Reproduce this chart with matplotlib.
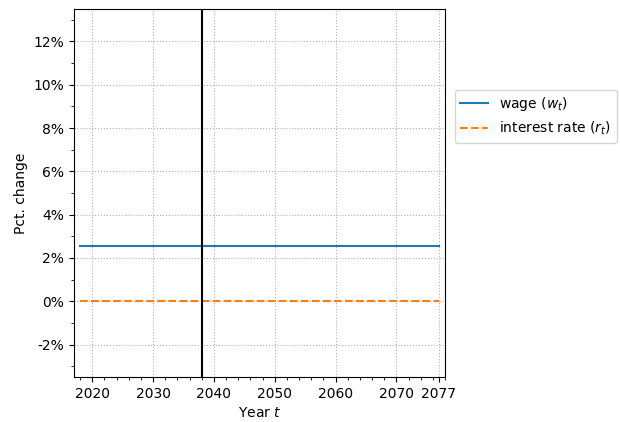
import numpy as np
import matplotlib
matplotlib.use("Agg")
import matplotlib.pyplot as plt
from matplotlib.ticker import FuncFormatter, MultipleLocator

years = np.arange(2018, 2078)
wage_pct = [2.55] * len(years)
interest_pct = [0.0] * len(years)
shock_year = 2038
xticks = [2020, 2030, 2040, 2050, 2060, 2070, 2077]

fig = plt.figure(figsize=(6.2, 4.22), dpi=100)
ax = fig.add_axes([74 / 620, 1 - 377 / 422, (445 - 74) / 620, (377 - 9) / 422])

ax.plot(years, wage_pct, color="#1f77b4", lw=1.5, label=r"wage ($w_t$)")
ax.plot(years, interest_pct, color="#ff7f0e", lw=1.5, ls="--", label=r"interest rate ($r_t$)")
ax.axvline(shock_year, color="black", lw=1.5)

ax.set_xlim(2017, 2078)
ax.set_ylim(-3.5, 13.5)
ax.set_xticks(xticks)
ax.xaxis.set_minor_locator(MultipleLocator(2))
ax.yaxis.set_major_locator(MultipleLocator(2))
ax.yaxis.set_minor_locator(MultipleLocator(1))
ax.yaxis.set_major_formatter(FuncFormatter(lambda v, p: f"{v:.0f}%"))
ax.grid(True, which="major", ls=":", color="#b0b0b0", lw=0.8)

ax.set_xlabel(r"Year $t$")
ax.set_ylabel("Pct. change")
ax.legend(loc="upper left", bbox_to_anchor=(1.008, 0.80), frameon=True)

fig.savefig("out.png", dpi=100)
